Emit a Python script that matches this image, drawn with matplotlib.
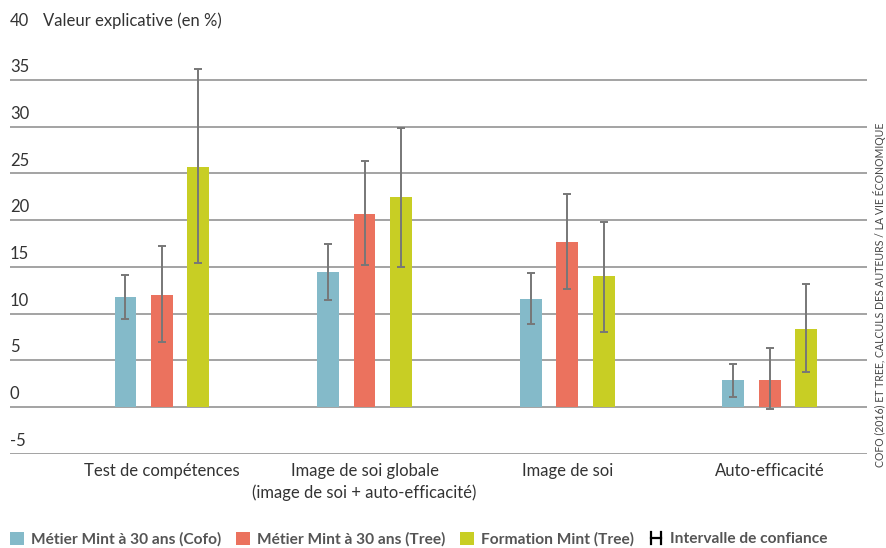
import matplotlib
matplotlib.use("Agg")
import matplotlib.pyplot as plt
import numpy as np
from matplotlib.patches import Patch
from matplotlib.lines import Line2D
from matplotlib.legend_handler import HandlerBase

plt.rcParams['font.family'] = ['Lato', 'DejaVu Sans']

categories = ["Test de compétences",
              "Image de soi globale\n(image de soi + auto-efficacité)",
              "Image de soi",
              "Auto-efficacité"]
series_names = ["Métier Mint à 30 ans (Cofo)",
                "Métier Mint à 30 ans (Tree)",
                "Formation Mint (Tree)"]
values = [
    [11.8, 14.5, 11.6, 2.9],
    [12.0, 20.7, 17.7, 2.9],
    [25.7, 22.5, 14.0, 8.3],
]
ci_low = [
    [9.4, 11.5, 8.9, 1.1],
    [7.0, 15.2, 12.6, -0.2],
    [15.4, 15.0, 8.0, 3.7],
]
ci_high = [
    [14.1, 17.4, 14.3, 4.6],
    [17.2, 26.3, 22.8, 6.3],
    [36.2, 29.9, 19.8, 13.2],
]
yticks = [-5, 0, 5, 10, 15, 20, 25, 30, 35, 40]
colors = ["#84BAC9", "#EB725E", "#C8CE24"]
err_color = "#777777"
text_color = "#333333"

W, H = 887, 548
fig = plt.figure(figsize=(W / 100, H / 100), dpi=100)
ax = fig.add_axes([10 / W, 1 - 453.5 / H, (867 - 10) / W, (453.5 - 33.5) / H])

x = np.arange(len(categories))
bar_w = 0.108
offsets = [-0.18, 0.0, 0.18]

for v in yticks:
    ax.axhline(v, color="#8a8a8a", lw=1.1, zorder=0)
    ax.text(0, v + 0.5, str(v), transform=ax.get_yaxis_transform(),
            ha="left", va="bottom", fontsize=12, color=text_color)
ax.text(0.039, 40.5, "Valeur explicative (en %)", transform=ax.get_yaxis_transform(),
        ha="left", va="bottom", fontsize=12, color=text_color)

for i in range(3):
    vals = np.array(values[i])
    lo = vals - np.array(ci_low[i])
    hi = np.array(ci_high[i]) - vals
    ax.bar(x + offsets[i], vals, width=bar_w, color=colors[i], zorder=2)
    ax.errorbar(x + offsets[i], vals, yerr=[lo, hi], fmt="none",
                ecolor=err_color, elinewidth=1.4, capsize=3, capthick=1.4, zorder=3)

ax.set_xlim(-0.75, 3.48)
ax.set_ylim(-5, 40)
ax.set_xticks([])
ax.set_yticks([])
for s in ax.spines.values():
    s.set_visible(False)

for xi, cat in zip(x, categories):
    ax.text(xi, -6.0, cat, ha="center", va="top", fontsize=12,
            color=text_color, linespacing=1.45)

fig.text(880 / W, 1 - 295 / H, "COFO (2016) ET TREE, CALCULS DES AUTEURS / LA VIE ÉCONOMIQUE",
         rotation=90, ha="center", va="center", fontsize=7.6, color="#444444")


class HandlerInterval(HandlerBase):
    def create_artists(self, legend, orig_handle, xdescent, ydescent,
                       width, height, fontsize, trans):
        x0 = -xdescent + width * 0.15
        x1 = -xdescent + width * 0.85
        y0 = -ydescent + height * 0.05
        y1 = -ydescent + height * 0.95
        ym = (y0 + y1) / 2
        kw = dict(color="black", lw=1.6, transform=trans)
        return [Line2D([x0, x0], [y0, y1], **kw),
                Line2D([x1, x1], [y0, y1], **kw),
                Line2D([x0, x1], [ym, ym], **kw)]


handles = [Patch(facecolor=c, edgecolor="none") for c in colors]
interval_handle = Line2D([], [])
handles.append(interval_handle)
labels = series_names + ["Intervalle de confiance"]
leg = fig.legend(handles, labels, loc="center left", bbox_to_anchor=(10 / W, 1 - 539 / H),
                 ncol=4, frameon=False, handlelength=0.9, handleheight=0.9,
                 handletextpad=0.45, columnspacing=0.95, borderaxespad=0,
                 borderpad=0, prop={"size": 11.2, "weight": "bold"},
                 handler_map={interval_handle: HandlerInterval()})
for t in leg.get_texts():
    t.set_color("#555555")

fig.savefig("out.png", dpi=100)
